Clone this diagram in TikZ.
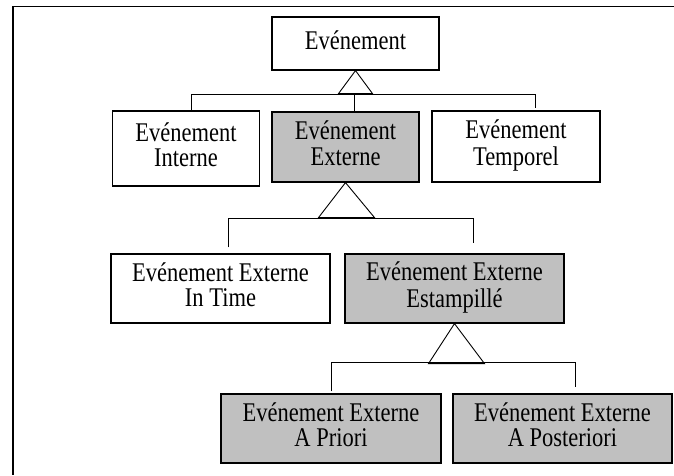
\documentclass[tikz,border=0pt]{standalone}
\usepackage{fontspec}
\setmainfont{Liberation Serif}
\usepackage{xcolor}
\usepackage{graphicx}
\usetikzlibrary{calc}
\definecolor{boxgray}{RGB}{192,192,192}
% text in the reference is a little taller than wide
\newcommand{\vstretch}[1]{\scalebox{1}[1.2]{\begin{tabular}{@{}c@{}}#1\end{tabular}}}

\begin{document}
\begin{tikzpicture}[x=1pt,y=-1pt,
  cls/.style={draw,line width=1.2pt,align=center,inner sep=0pt,
    font=\fontsize{22.5}{21.5}\selectfont},
  clsgray/.style={cls,fill=boxgray},
  link/.style={line width=0.9pt}]
  \useasboundingbox (0,0) rectangle (674,475);
  % frame (cut off at right and bottom)
  \draw[line width=1.4pt] (674,6.5) -- (13,6.5) -- (13,475);
  % level 0
  \node[cls,minimum width=167pt,minimum height=53pt] (evt) at (355.5,43.5) {\vstretch{Evénement}};
  % level 1
  \node[cls,minimum width=147pt,minimum height=75pt] (interne) at (186,148.5) {\vstretch{Evénement\\Interne}};
  \node[clsgray,minimum width=147pt,minimum height=70pt] (externe) at (345.5,147) {\vstretch{Evénement\\Externe}};
  \node[cls,minimum width=168pt,minimum height=71pt] (temporel) at (516,146.5) {\vstretch{Evénement\\Temporel}};
  % level 2
  \node[cls,minimum width=219pt,minimum height=69pt] (intime) at (220.5,288.5) {\vstretch{Evénement Externe\\In Time}};
  \node[clsgray,minimum width=219pt,minimum height=69pt] (estamp) at (454.5,288.5) {\vstretch{Evénement Externe\\Estampillé}};
  % level 3
  \node[clsgray,minimum width=220pt,minimum height=69pt] (apriori) at (331,428.5) {\vstretch{Evénement Externe\\A Priori}};
  \node[clsgray,minimum width=219pt,minimum height=69pt] (aposter) at (562.5,428.5) {\vstretch{Evénement Externe\\A Posteriori}};
  % generalisation triangles
  \draw[link] (evt.south) -- ++(-17,23) -- ++(34,0) -- cycle;
  \draw[link] (externe.south) -- ++(-27,35) -- ++(56,0) -- cycle;
  \draw[link] (estamp.south) -- ++(-26,40) -- ++(56,0) -- cycle;
  % bars to subclasses
  \coordinate (b1l) at (191,94);
  \coordinate (b1r) at (535,94);
  \draw[link] (b1l |- interne.north) -- (b1l) -- (b1r) -- ++(0,14);
  \draw[link] (354,94) -- (354,0 |- externe.north);
  \coordinate (b2l) at (228,218);
  \coordinate (b2r) at (473,218);
  \draw[link] ($(b2l |- intime.north)+(0,-6)$) -- (b2l) -- (b2r) -- ++(0,25);
  \coordinate (b3l) at (331,362);
  \coordinate (b3r) at (575,362);
  \draw[link] ($(b3l |- apriori.north)+(0,-2)$) -- (b3l) -- (b3r) -- ++(0,25);
\end{tikzpicture}
\end{document}
